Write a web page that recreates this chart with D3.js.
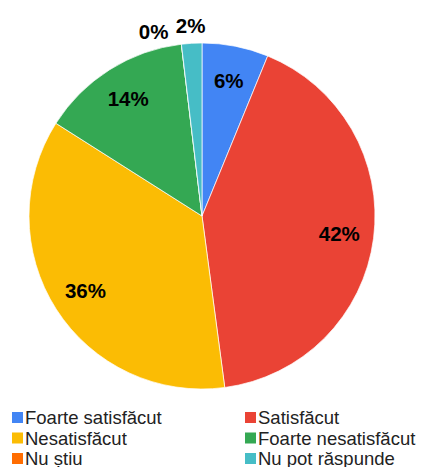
<!DOCTYPE html>
<html>
<head>
  <meta charset="UTF-8">
  <script src="https://d3js.org/d3.v7.min.js"></script>
  <style>
    body { margin: 0; background: #fff; }
    text { font-family: Arial, "Liberation Sans", sans-serif; }
  </style>
</head>
<body>
  <script>
    // chart data
    var categories = ["Foarte satisfăcut", "Satisfăcut", "Nesatisfăcut",
      "Foarte nesatisfăcut", "Nu știu", "Nu pot răspunde"];
    var shares = [6.2, 41.7, 36.1, 14.1, 0, 1.9];
    var labels = ["6%", "42%", "36%", "14%", "0%", "2%"];
    var colors = ["#4285f4", "#ea4335", "#fbbc04", "#34a853", "#ff6d01", "#46bdc6"];

    var width = 421;
    var height = 467;
    var cx = 202, cy = 216, radius = 173;

    var svg = d3.select("body")
      .append("svg")
      .attr("width", width)
      .attr("height", height);

    var data = categories.map(function(c, i) {
      return { name: c, value: shares[i], label: labels[i], color: colors[i] };
    });

    var pie = d3.pie()
      .sort(null)
      .value(function(d) { return d.value; });

    var arcs = pie(data);

    var arc = d3.arc()
      .innerRadius(0)
      .outerRadius(radius);

    var pieGroup = svg.append("g")
      .attr("transform", "translate(" + cx + "," + cy + ")");

    pieGroup.selectAll("path")
      .data(arcs)
      .enter()
      .append("path")
      .attr("d", arc)
      .attr("fill", function(d) { return d.data.color; })
      .attr("stroke", "#fff")
      .attr("stroke-width", 0.7);

    // labels: big slices inside, tiny slices outside above the rim
    var insideArc = d3.arc().innerRadius(radius * 0.8).outerRadius(radius * 0.8);
    var outsideArc = d3.arc().innerRadius(radius * 1.1).outerRadius(radius * 1.1);

    arcs.forEach(function(d) {
      d.labelPos = insideArc.centroid(d);
    });
    // outside labels, from the last slice backwards so 2% sits right of 0%
    var lastOutside = null;
    arcs.slice().reverse().forEach(function(d) {
      if (d.data.value >= 4) return;
      var pos = outsideArc.centroid(d);
      if (lastOutside && Math.abs(pos[0] - lastOutside[0]) < 34) {
        pos = [lastOutside[0] - 37, lastOutside[1] + 6];
      }
      d.labelPos = pos;
      lastOutside = pos;
    });

    pieGroup.selectAll("text.lbl")
      .data(arcs)
      .enter()
      .append("text")
      .attr("class", "lbl")
      .attr("x", function(d) { return d.labelPos[0]; })
      .attr("y", function(d) { return d.labelPos[1]; })
      .attr("text-anchor", "middle")
      .attr("dy", "0.36em")
      .attr("font-size", 20.5)
      .attr("font-weight", "bold")
      .attr("fill", "#000")
      .text(function(d) { return d.data.label; });

    // legend, two columns
    var legend = svg.append("g")
      .attr("transform", "translate(12,411)");

    var item = legend.selectAll("g")
      .data(data)
      .enter()
      .append("g")
      .attr("transform", function(d, i) {
        return "translate(" + (i % 2 * 233) + "," + (Math.floor(i / 2) * 20.5) + ")";
      });

    item.append("rect")
      .attr("width", 11)
      .attr("height", 11)
      .attr("y", 1)
      .attr("fill", function(d) { return d.color; });

    item.append("text")
      .attr("x", 13)
      .attr("y", 13)
      .attr("font-size", 18.5)
      .attr("fill", "#222")
      .text(function(d) { return d.name; });
  </script>
</body>
</html>
